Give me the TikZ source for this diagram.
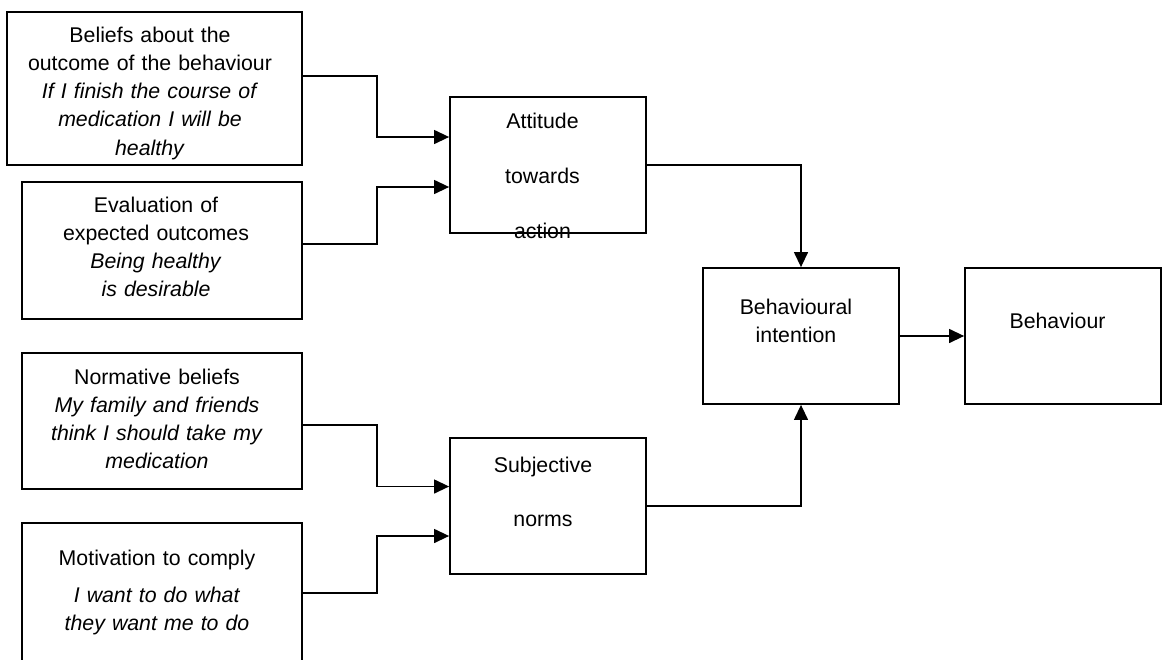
\documentclass[tikz,border=0pt]{standalone}
\usepackage{fontspec}
\setmainfont{Liberation Sans}
\usetikzlibrary{arrows.meta}
\begin{document}
\begin{tikzpicture}[x=1pt,y=-1pt,
  box/.style n args={2}{draw, rectangle, line width=1.8pt, inner sep=0pt,
    minimum width=#1, minimum height=#2},
  txt/.style={align=center, text width=300pt, anchor=base, inner sep=0pt,
    font=\fontsize{21.3pt}{28.3pt}\selectfont},
  conn/.style={line width=1.3pt, -{Triangle[length=15pt,width=14pt]}}]

\fill[white] (0,0) rectangle (1162,659);
\clip (0,0) rectangle (1162,659);

% belief and evaluation boxes
\node[box={295pt}{153pt}] (b1) at (154.5,88.5) {};
\node[box={280pt}{137pt}] (b2) at (162,250.5) {};
\node[box={280pt}{136pt}] (b3) at (162,421) {};
\node[box={280pt}{138pt}] (b4) at (162,592) {};

% constructs
\node[box={196pt}{136pt}] (att) at (548,165) {};
\node[box={196pt}{136pt}] (sn)  at (548,506) {};
\node[box={196pt}{136pt}] (bi)  at (801,336) {};
\node[box={196pt}{136pt}] (beh) at (1063,336) {};

% texts
\node[txt] (t1) at (150,42) {Beliefs about the\\outcome of the behaviour\\\textit{If I finish the course of}\\\textit{medication I will be}\\\textit{healthy}};
\node[txt] (t2) at (156,212) {Evaluation of\\expected outcomes\\\textit{Being healthy}\\\textit{is desirable}};
\node[txt] (t3) at (157,384) {Normative beliefs\\\textit{My family and friends}\\\textit{think I should take my}\\\textit{medication}};
\node[txt] (t4) at (157,565) {Motivation to comply\\[8.7pt]\textit{I want to do what}\\\textit{they want me to do}};
\node[txt] (t5) at (542.5,128) {Attitude\\[26.7pt]towards\\[26.7pt]action};
\node[txt] (t6) at (796,314) {Behavioural\\intention};
\node[txt] (t7) at (1057.5,328) {Behaviour};
\node[txt] (t8) at (543,472) {Subjective\\[25.7pt]norms};

% connectors
\draw[conn] ([yshift=12.5pt]b1.east) -- ++(74,0) |- ([yshift=28pt]att.west);
\draw[conn] ([yshift=6.5pt]b2.east) -- ++(74,0) |- ([yshift=-22pt]att.west);
\draw[conn] ([yshift=-4pt]b3.east) -- ++(74,0) |- ([yshift=19.5pt]sn.west);
\draw[conn] ([yshift=-1pt]b4.east) -- ++(74,0) |- ([yshift=-30pt]sn.west);
\draw[conn] (att.east) -| (bi.north);
\draw[conn] (sn.east) -| (bi.south);
\draw[conn] (bi.east) -- (beh.west);
\end{tikzpicture}
\end{document}
